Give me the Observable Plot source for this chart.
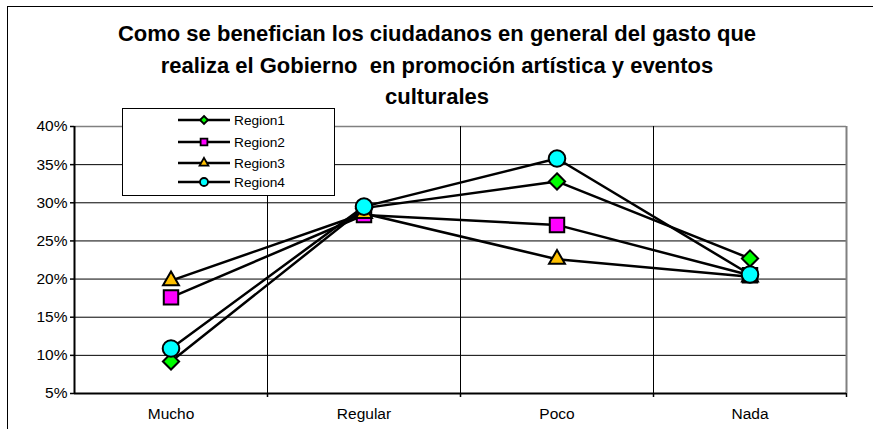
<!DOCTYPE html>
<html>
<head>
<meta charset="utf-8">
<script src="https://cdn.jsdelivr.net/npm/d3@7"></script>
<script src="https://cdn.jsdelivr.net/npm/@observablehq/plot@0.6"></script>
<style>
  html, body { margin: 0; padding: 0; background: #fff; }
  body { width: 873px; height: 429px; position: relative; overflow: hidden; font-family: "Liberation Sans", Arial, sans-serif; }
  #frame { position: absolute; left: 7px; top: 6px; width: 880px; height: 440px; border: 1.5px solid #000; box-sizing: border-box; }
  #title { position: absolute; left: 0; width: 874px; top: 18px; text-align: center; font-weight: bold; font-size: 22px; line-height: 31.5px; color: #000; }
  #chart { position: absolute; left: 0; top: 0; }
  #legend { position: absolute; left: 122px; top: 108px; width: 213px; height: 88px; border: 1px solid #000; background: #fff; box-sizing: border-box; }
</style>
</head>
<body>
<div id="frame"></div>
<div id="title">Como se benefician los ciudadanos en general del gasto que<br>realiza el Gobierno&nbsp; en promoción artística y eventos<br>culturales</div>
<div id="chart"></div>
<div id="legend"></div>
<script>
const categories = ["Mucho", "Regular", "Poco", "Nada"];
const seriesNames = ["Region1", "Region2", "Region3", "Region4"];
const region1 = [9.2, 29.3, 32.8, 22.7];
const region2 = [17.6, 28.4, 27.1, 20.5];
const region3 = [19.8, 28.6, 22.6, 20.3];
const region4 = [10.9, 29.5, 35.8, 20.6];
const yTicks = [5, 10, 15, 20, 25, 30, 35, 40];
const colors = ["#00ff00", "#ff00ff", "#ffc000", "#00ffff"];
const symbols = ["diamond2", "square2", "triangle2", "circle"];
const markerR = [7.3, 9.2, 7.6, 8.3];
const legendR = [3.6, 4.3, 4.2, 4.0];

const allValues = [region1, region2, region3, region4];
const data = [];
seriesNames.forEach((s, si) => {
  allValues[si].forEach((v, ci) => data.push({series: s, si, ci, cat: categories[ci], value: v}));
});

const boundaries = d3.range(categories.length - 1).map(i => i + 0.5);

const chart = Plot.plot({
  width: 873,
  height: 429,
  marginLeft: 74,
  marginRight: 27,
  marginTop: 126,
  marginBottom: 36,
  style: {fontFamily: "Liberation Sans, Arial, sans-serif", fontSize: "15.5px", color: "#000", background: "transparent", overflow: "visible"},
  x: {type: "linear", domain: [-0.5, categories.length - 0.5], axis: null, label: null},
  y: {type: "linear", domain: [5, 40], axis: null, label: null},
  marks: [
    Plot.ruleY(yTicks.filter(t => t < 40), {y: d => d, stroke: "#000", strokeWidth: 1}),
    Plot.ruleY([40], {y: d => d, stroke: "#808080", strokeWidth: 1.5}),
    Plot.ruleX(boundaries, {x: d => d, stroke: "#000", strokeWidth: 1}),
    Plot.ruleX([categories.length - 0.5], {x: d => d, stroke: "#808080", strokeWidth: 2}),
    Plot.ruleX([-0.5], {x: d => d, stroke: "#000", strokeWidth: 2}),
    Plot.ruleY([5], {y: d => d, stroke: "#000", strokeWidth: 2}),
    Plot.axisY(yTicks, {anchor: "left", tickSize: 4, tickFormat: d => d + "%", tickPadding: 3, fontSize: 15.5, strokeWidth: 1.5, label: null}),
    Plot.axisX([...boundaries, categories.length - 0.5], {anchor: "bottom", tickSize: 4, tickFormat: () => "", strokeWidth: 1.5, label: null}),
    Plot.text(categories, {x: (d, i) => i, y: () => 5, text: d => d, dy: 21, fontSize: 15.5, fill: "#000"}),
    Plot.line(data, {x: "ci", y: "value", z: "series", stroke: "#000", strokeWidth: 2.5}),
    ...seriesNames.map((s, si) =>
      Plot.dot(data.filter(d => d.si === si), {x: "ci", y: "value", symbol: () => symbols[si], r: markerR[si], fill: colors[si], stroke: "#000", strokeWidth: 2})
    )
  ]
});
document.getElementById("chart").appendChild(chart);

// Legend built from the series arrays
const lg = d3.select("#legend").append("svg").attr("width", 211).attr("height", 86).style("position", "absolute").style("left", 0).style("top", 0);
const rowY = [11, 33, 54, 73];
seriesNames.forEach((s, si) => {
  const g = lg.append("g").attr("transform", `translate(0,${rowY[si]})`);
  g.append("line").attr("x1", 55).attr("x2", 107).attr("y1", 0).attr("y2", 0).attr("stroke", "#000").attr("stroke-width", 2.5);
  const symMap = {"diamond2": d3.symbolDiamond2, "square2": d3.symbolSquare2, "triangle2": d3.symbolTriangle2, "circle": d3.symbolCircle};
  g.append("path").attr("transform", "translate(81,0)")
    .attr("d", d3.symbol(symMap[symbols[si]], Math.PI * legendR[si] * legendR[si])())
    .attr("fill", colors[si]).attr("stroke", "#000").attr("stroke-width", 1.8);
  g.append("text").attr("x", 111).attr("y", 0).attr("dy", "0.35em").attr("font-size", 13.7)
    .attr("font-family", "Liberation Sans, Arial, sans-serif").text(s);
});
</script>
</body>
</html>
